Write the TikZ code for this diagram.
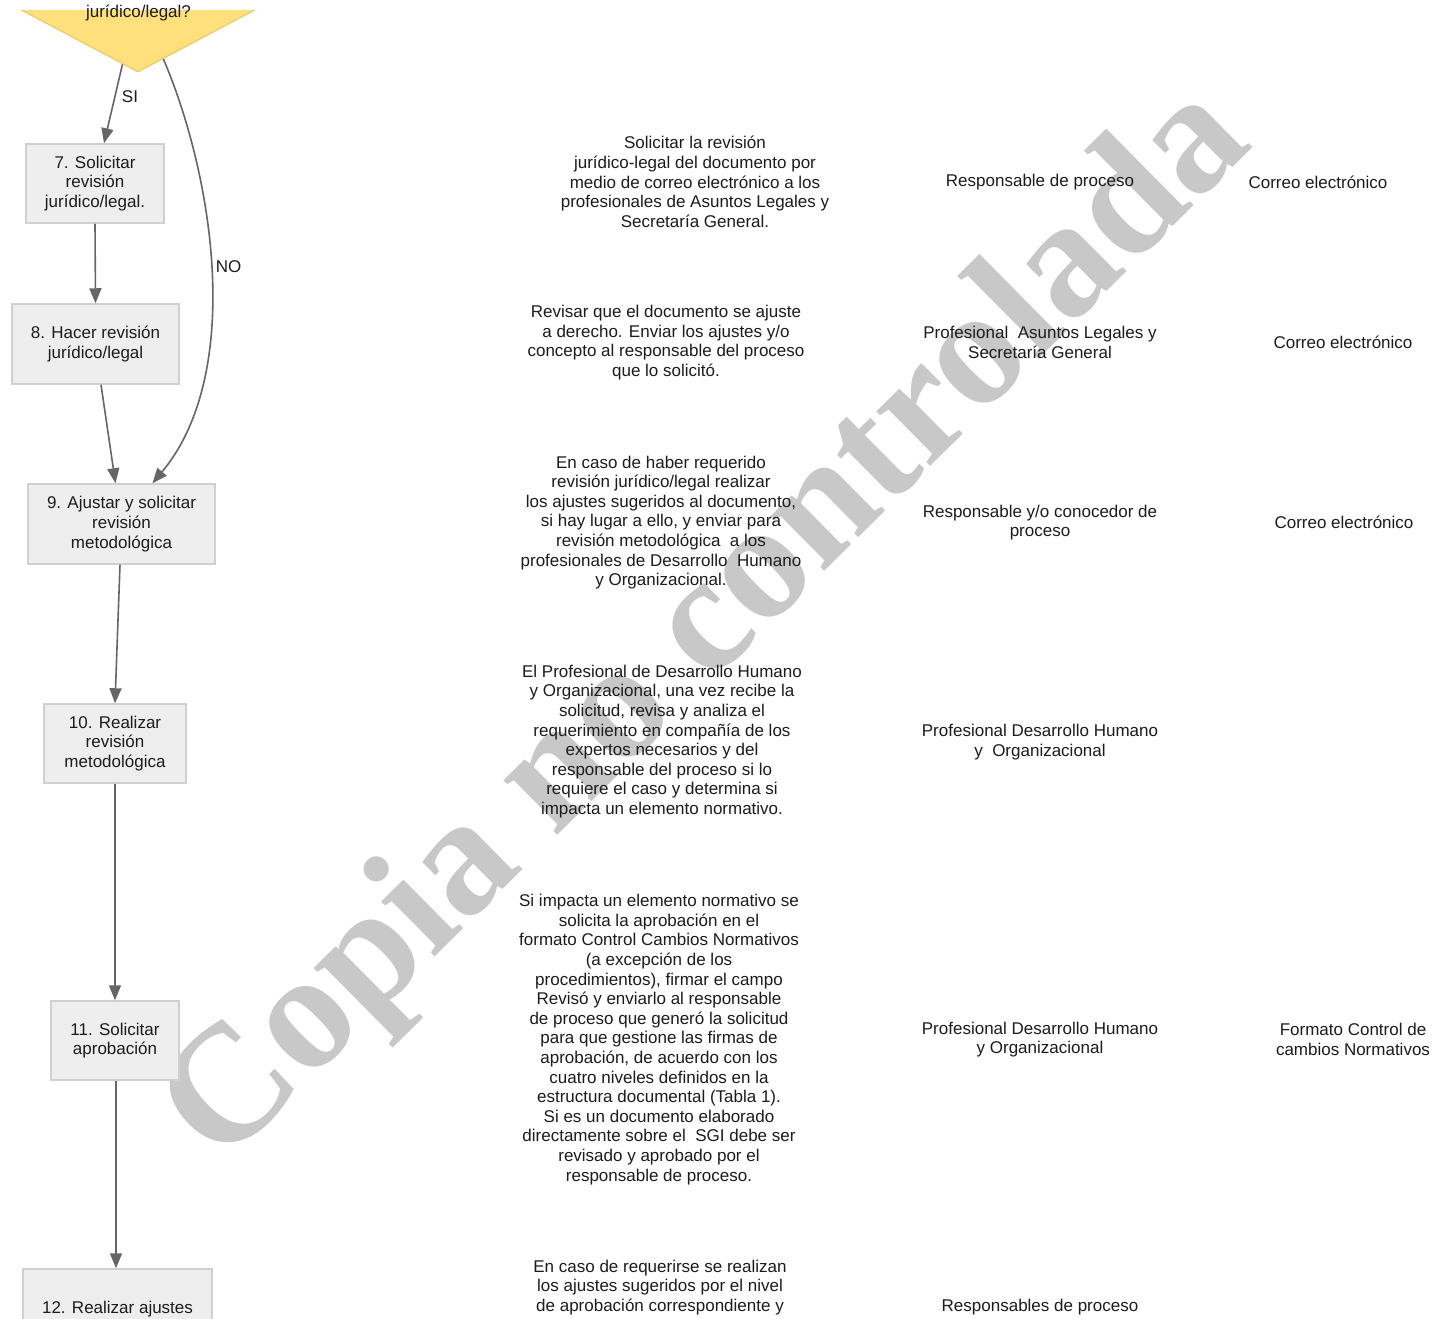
\documentclass[tikz,border=0pt]{standalone}
\usepackage{fontspec}
\setmainfont{Liberation Sans}
\newfontfamily\wmfont{Liberation Serif}
\usetikzlibrary{arrows.meta,shapes.geometric,calc}
\definecolor{boxfill}{RGB}{238,238,238}
\definecolor{boxdraw}{RGB}{208,208,208}
\definecolor{arrowc}{RGB}{102,102,102}
\definecolor{decfill}{RGB}{255,224,125}
\definecolor{decdraw}{RGB}{236,198,88}
\definecolor{wmc}{RGB}{200,200,200}
\definecolor{txt}{RGB}{28,28,28}
\newcommand{\fs}{\fontsize{17}{19.6}\selectfont}
\tikzset{
  procbox/.style={draw=boxdraw, fill=boxfill, line width=1.5pt, align=center, inner sep=0pt, font=\fs, text=txt},
  desc/.style={align=center, inner sep=0pt, font=\fs, text=txt},
  arr/.style={draw=arrowc, line width=1.6pt, -{Triangle[length=15pt,width=12pt]}},
  lbl/.style={inner sep=0pt, font=\fs, text=txt}
}
\begin{document}
\begin{tikzpicture}[x=1pt,y=-1pt]
\useasboundingbox (0,0) rectangle (1438,1318);
\fill[white] (0,0) rectangle (1438,1318);

% watermark
\node[font={\wmfont\bfseries\fontsize{167}{167}\selectfont}, text=wmc, rotate=44.7, anchor=base, inner sep=0pt] (wm) at (738,657) {Copia no controlada};

% decision (clipped at top)
\begin{scope}
  \clip (0,10) rectangle (1438,120);
  \node[diamond, draw=decdraw, fill=decfill, line width=1pt, minimum width=264pt, minimum height=140pt, inner sep=0pt] (dec) at (138,2) {};
\end{scope}
\node[lbl, anchor=base] (dect) at (138.5,17) {jurídico/legal?};

% process boxes
\node[procbox, minimum width=138pt, minimum height=79pt] (b7) at (95,183.5) {7. Solicitar\\revisión\\jurídico/legal.};
\node[procbox, minimum width=167pt, minimum height=80pt] (b8) at (95.5,344) {8. Hacer revisión\\jurídico/legal};
\node[procbox, minimum width=187pt, minimum height=80pt] (b9) at (121.5,524) {9. Ajustar y solicitar\\revisión\\metodológica};
\node[procbox, minimum width=142pt, minimum height=79pt] (b10) at (115,743.5) {10. Realizar\\revisión\\metodológica};
\node[procbox, minimum width=128pt, minimum height=79pt] (b11) at (115,1040.5) {11. Solicitar\\aprobación};
\node[procbox, minimum width=189pt, minimum height=80pt] (b12) at (117.5,1309) {12. Realizar ajustes};

% connectors
\draw[arr] (dec.256) -- ($(b7.north)+(9,0)$);
\node[lbl] (si) at (130,97) {SI};
\draw[arr] (dec.294) .. controls (215,180) and (243,375) .. ($(b9.north)+(31,0)$);
\node[lbl] (no) at (228.5,267) {NO};
\draw[arr] (b7.south) -- (b8.north);
\draw[arr] ($(b8.south)+(5.5,0)$) -- ($(b9.north)+(-6,0)$);
\draw[arr] ($(b9.south)+(-1.5,0)$) -- (b10.north);
\draw[arr] (b10.south) -- (b11.north);
\draw[arr] ($(b11.south)+(1,0)$) -- ($(b12.north)+(-1.5,0)$);

% description column
\node[desc] (d7) at (695,182) {Solicitar la revisión\\jurídico-legal del documento por\\medio de correo electrónico a los\\profesionales de Asuntos Legales y\\Secretaría General.};
\node[desc] (d8) at (666,342.5) {Revisar que el documento se ajuste\\a derecho. Enviar los ajustes y/o\\concepto al responsable del proceso\\que lo solicitó.};
\node[desc] (d9) at (661,522.5) {En caso de haber requerido\\revisión jurídico/legal realizar\\los ajustes sugeridos al documento,\\si hay lugar a ello, y enviar para\\revisión metodológica\ \ a los\\profesionales de Desarrollo\ \ Humano\\y Organizacional.};
\node[desc] (d10) at (662,741.5) {El Profesional de Desarrollo Humano\\y Organizacional, una vez recibe la\\solicitud, revisa y analiza el\\requerimiento en compañía de los\\expertos necesarios y del\\responsable del proceso si lo\\requiere el caso y determina si\\impacta un elemento normativo.};
\node[desc] (d11) at (659,1039.5) {Si impacta un elemento normativo se\\solicita la aprobación en el\\formato Control Cambios Normativos\\(a excepción de los\\procedimientos), firmar el campo\\Revisó y enviarlo al responsable\\de proceso que generó la solicitud\\para que gestione las firmas de\\aprobación, de acuerdo con los\\cuatro niveles definidos en la\\estructura documental (Tabla 1).\\Si es un documento elaborado\\directamente sobre el\ \ SGI debe ser\\revisado y aprobado por el\\responsable de proceso.};
\node[desc] (d12) at (660,1287.5) {En caso de requerirse se realizan\\los ajustes sugeridos por el nivel\\de aprobación correspondiente y};

% responsible column
\node[desc] (r7) at (1040,182) {Responsable de proceso};
\node[desc] (r8) at (1040,342.5) {Profesional\ \ Asuntos Legales y\\Secretaría General};
\node[desc] (r9) at (1040,522.5) {Responsable y/o conocedor de\\proceso};
\node[desc] (r10) at (1040,742) {Profesional Desarrollo Humano\\y\ \ Organizacional};
\node[desc] (r11) at (1040,1039.5) {Profesional Desarrollo Humano\\y Organizacional};
\node[desc] (r12) at (1040,1307) {Responsables de proceso};

% record column
\node[desc] (c7) at (1318,182) {Correo electrónico};
\node[desc] (c8) at (1343,342) {Correo electrónico};
\node[desc] (c9) at (1344,522) {Correo electrónico};
\node[desc] (c11) at (1353,1039.5) {Formato Control de\\cambios Normativos};
\end{tikzpicture}
\end{document}
